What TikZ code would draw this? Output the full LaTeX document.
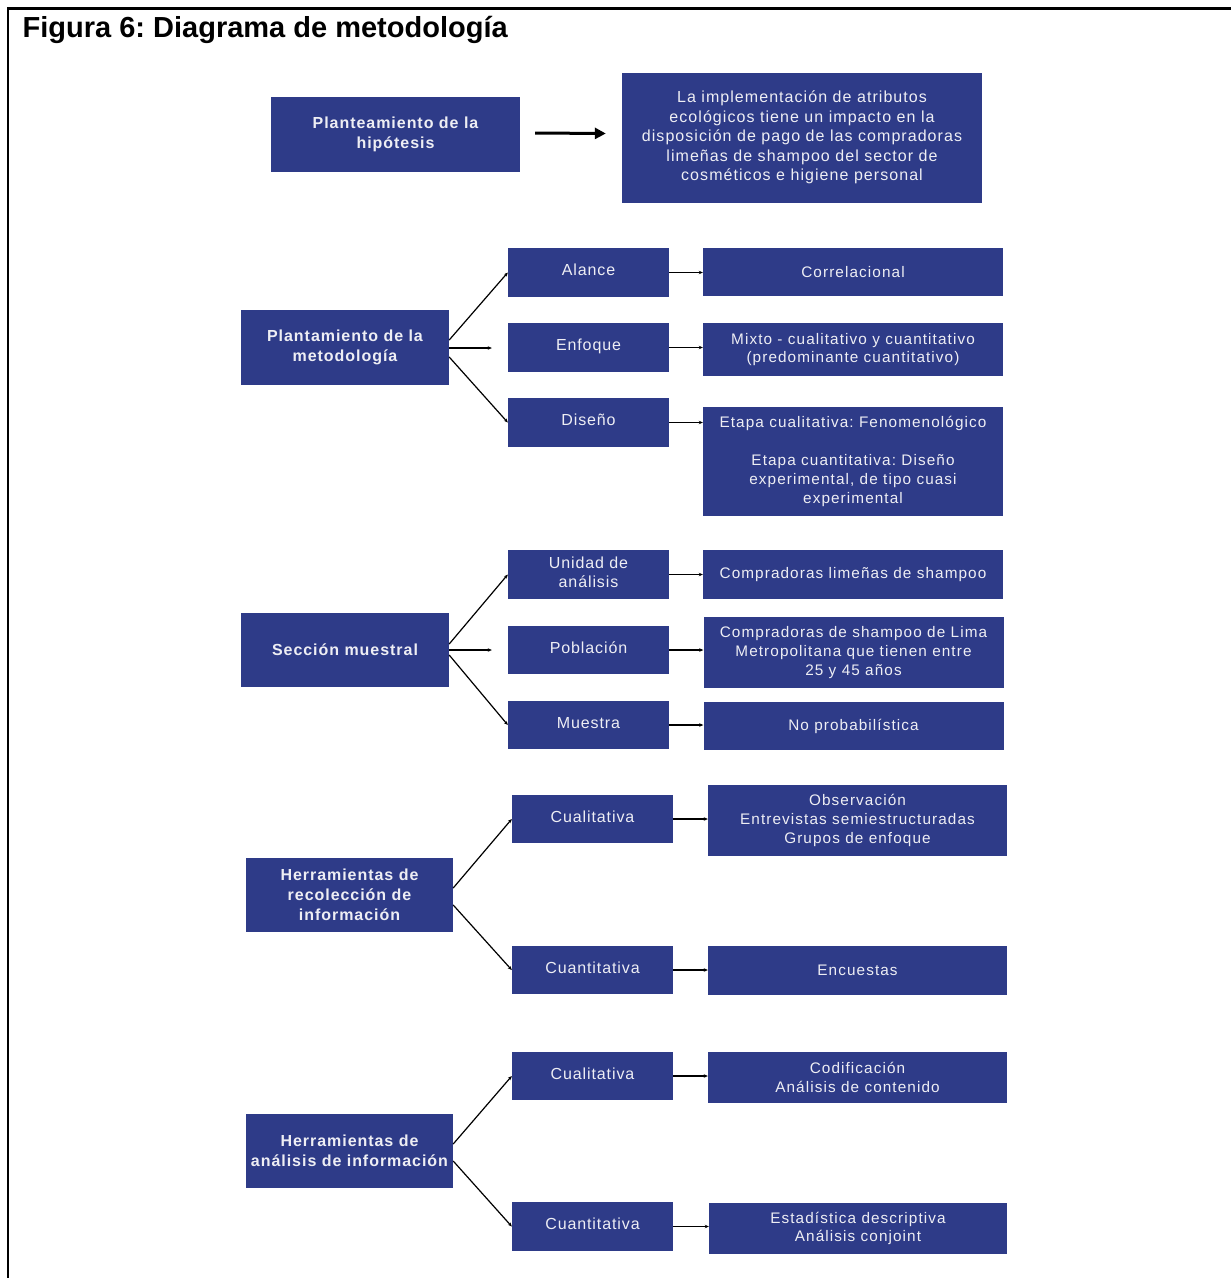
\documentclass[tikz,border=0pt]{standalone}
\usepackage{fontspec}
\setmainfont{Liberation Sans}
\newfontfamily\midfont[LetterSpace=5.6]{Liberation Sans}
\newfontfamily\infofont[LetterSpace=7.2]{Liberation Sans}
\newfontfamily\hypfont[LetterSpace=6.6]{Liberation Sans}
\newfontfamily\headfont[LetterSpace=6]{Liberation Sans}
\usetikzlibrary{arrows.meta,calc}
\definecolor{boxblue}{RGB}{46,59,136}
\definecolor{boxtext}{RGB}{238,238,244}
\tikzset{
  blk/.style={fill=boxblue, draw=none, inner sep=0pt, align=center, text=boxtext},
  head/.style={blk, font=\headfont\bfseries\fontsize{16}{20}\selectfont},
  mid/.style={blk, minimum width=161pt, minimum height=49pt, text depth=5pt, font=\midfont\fontsize{16}{19}\selectfont},
  info/.style={blk, minimum width=300pt, font=\infofont\fontsize{15.3}{18.8}\selectfont},
  fan/.style={line width=1.2pt, -{Stealth[length=4pt,width=3.5pt]}},
  link/.style={line width=1.2pt, -{Stealth[length=4pt,width=3.5pt]}},
}
\begin{document}
\frenchspacing
\begin{tikzpicture}[x=1pt,y=-1pt]
\useasboundingbox (0,0) rectangle (1231,1278);
\fill[white] (0,0) rectangle (1231,1278);
% frame
\draw[line width=2.2pt] (8,1278) -- (8,8.5) -- (1231,8.5);
\node[anchor=base west, inner sep=0pt, font=\bfseries\fontsize{29}{34}\selectfont] (title) at (22.5,37) {Figura 6: Diagrama de metodología};

% hypothesis
\node[head, minimum width=249pt, minimum height=75pt] (hyp) at (395.5,134.5) {Planteamiento de la\\hipótesis};
\node[blk, minimum width=360pt, minimum height=130pt, font=\hypfont\fontsize{16}{19.6}\selectfont] (stmt) at (802,137.5)
  {La implementación de atributos\\ecológicos tiene un impacto en la\\disposición de pago de las compradoras\\limeñas de shampoo del sector de\\cosméticos e higiene personal};
\draw[line width=3pt, -{Triangle[length=11pt,width=11pt]}] ([shift={(15,-1.5)}]hyp.east) -- ([shift={(-16,-4)}]stmt.west);

% methodology
\node[head, minimum width=208pt, minimum height=75pt] (met) at (345,347.5) {Plantamiento de la\\metodología};
\node[mid] (alc) at (588.5,272.5) {Alance};
\node[mid] (enf) at (588.5,347.5) {Enfoque};
\node[mid] (dis) at (588.5,422.5) {Diseño};
\node[info, minimum height=48pt] (cor) at (853,272) {Correlacional};
\node[info, minimum height=53pt] (mix) at (853,349.5) {Mixto - cualitativo y cuantitativo\\(predominante cuantitativo)};
\node[info, minimum height=109pt] (eta) at (853,461.5) {Etapa cualitativa: Fenomenológico\\[19pt]Etapa cuantitativa: Diseño\\experimental, de tipo cuasi\\experimental};
\draw[fan] ([yshift=7.5]met.east) -- (alc.west);
\draw[fan] ([yshift=-0.5]met.east) -- ([shift={(-16,0.5)}]enf.west);
\draw[fan] ([yshift=-9.5]met.east) -- (dis.west);
\draw[link] (alc.east) -- (alc.east -| cor.west);
\draw[link] (enf.east) -- (enf.east -| mix.west);
\draw[link] (dis.east) -- (dis.east -| eta.west);

% sample
\node[head, minimum width=208pt, minimum height=74pt] (sec) at (345,650) {Sección muestral};
\node[mid] (uni) at (588.5,574.5) {Unidad de\\análisis};
\node[mid, minimum height=48pt] (pob) at (588.5,650) {Población};
\node[mid, minimum height=48pt] (mue) at (588.5,725) {Muestra};
\node[info, minimum height=49pt] (cl) at (853,574.5) {Compradoras limeñas de shampoo};
\node[info, minimum height=71pt] (cs) at (853.5,652.5) {Compradoras de shampoo de Lima\\Metropolitana que tienen entre\\25 y 45 años};
\node[info, minimum height=48pt] (np) at (853.5,726) {No probabilística};
\draw[fan] ([yshift=6]sec.east) -- (uni.west);
\draw[fan] (sec.east) -- ([xshift=-16]pob.west);
\draw[fan] ([yshift=-5]sec.east) -- (mue.west);
\draw[link] (uni.east) -- (uni.east -| cl.west);
\draw[link] (pob.east) -- (pob.east -| cs.west);
\draw[link] (mue.east) -- (mue.east -| np.west);

% data collection
\node[head, minimum width=207pt, minimum height=74pt] (rec) at (349.5,895) {Herramientas de\\recolección de\\información};
\node[mid, minimum height=48pt] (cua1) at (592.5,819) {Cualitativa};
\node[mid, minimum height=48pt] (cun1) at (592.5,970) {Cuantitativa};
\node[info, minimum width=299pt, minimum height=71pt] (obs) at (857.5,820.5) {Observación\\Entrevistas semiestructuradas\\Grupos de enfoque};
\node[info, minimum width=299pt, minimum height=49pt] (enc) at (857.5,970.5) {Encuestas};
\draw[fan] ([yshift=7]rec.east) -- (cua1.west);
\draw[fan] ([yshift=-10]rec.east) -- (cun1.west);
\draw[link] (cua1.east) -- (cua1.east -| obs.west);
\draw[link] (cun1.east) -- (cun1.east -| enc.west);

% data analysis
\node[head, minimum width=207pt, minimum height=74pt] (ana) at (349.5,1151) {Herramientas de\\análisis de información};
\node[mid, minimum height=48pt] (cua2) at (592.5,1076) {Cualitativa};
\node[mid, minimum height=49pt] (cun2) at (592.5,1226.5) {Cuantitativa};
\node[info, minimum width=299pt, minimum height=51pt] (cod) at (857.5,1077.5) {Codificación\\Análisis de contenido};
\node[info, minimum width=298pt, minimum height=51pt] (est) at (858,1228.5) {Estadística descriptiva\\Análisis conjoint};
\draw[fan] ([yshift=7]ana.east) -- (cua2.west);
\draw[fan] ([yshift=-10]ana.east) -- (cun2.west);
\draw[link] (cua2.east) -- (cua2.east -| cod.west);
\draw[link] (cun2.east) -- (cun2.east -| est.west);
\end{tikzpicture}
\end{document}
